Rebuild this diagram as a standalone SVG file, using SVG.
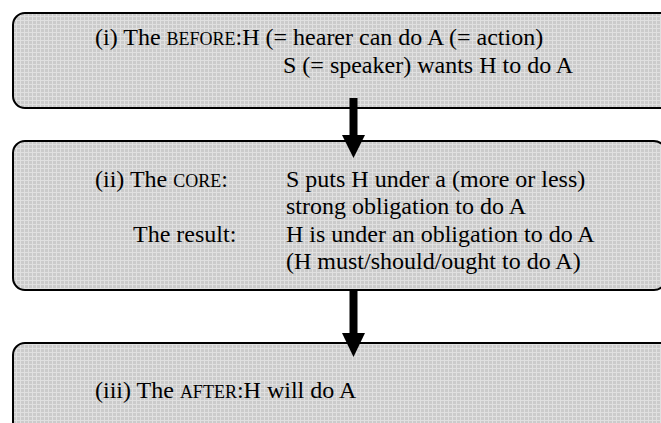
<svg xmlns="http://www.w3.org/2000/svg" width="661" height="423" viewBox="0 0 661 423">
<defs>
<pattern id="hatch" width="4" height="4" patternUnits="userSpaceOnUse">
<rect width="4" height="4" fill="#cbcbcb"/>
<rect x="0" y="0" width="4" height="1" fill="#e0e0e0"/>
<rect x="0" y="0" width="1" height="4" fill="#e0e0e0"/>
</pattern>
</defs>
<style>
.box{fill:url(#hatch);stroke:#000;stroke-width:2}
.t{font-family:"Liberation Serif","Times New Roman",serif;font-size:24px;fill:#000}
.sc{font-size:18px}
.arrow{fill:#000}
</style>
<rect width="661" height="423" fill="#fff"/>
<g id="before">
<rect class="box" x="13" y="13" width="680" height="95" rx="12"/>
<text class="t" x="95" y="45">(i) The <tspan class="sc">BEFORE</tspan>:H (= hearer can do A (= action)</text>
<text class="t" x="283" y="73">S (= speaker) wants H to do A</text>
</g>
<g id="core">
<rect class="box" x="13" y="141" width="653" height="149" rx="12"/>
<text class="t" x="95" y="187">(ii) The <tspan class="sc">CORE</tspan>:</text>
<text class="t" x="286" y="187">S puts H under a (more or less)</text>
<text class="t" x="286" y="214">strong obligation to do A</text>
<text class="t" x="133" y="242">The result:</text>
<text class="t" x="286" y="242">H is under an obligation to do A</text>
<text class="t" x="286" y="269">(H must/should/ought to do A)</text>
</g>
<g id="after">
<rect class="box" x="13" y="343" width="680" height="120" rx="12"/>
<text class="t" x="95" y="398">(iii) The <tspan class="sc">AFTER</tspan>:H will do A</text>
</g>
<g id="connectors">
<rect class="arrow" x="349.5" y="98" width="8" height="38"/>
<polygon class="arrow" points="342,135 365,135 353.5,158"/>
<rect class="arrow" x="349.5" y="290" width="8" height="44"/>
<polygon class="arrow" points="342,333 365,333 353.5,357"/>
</g>
</svg>
